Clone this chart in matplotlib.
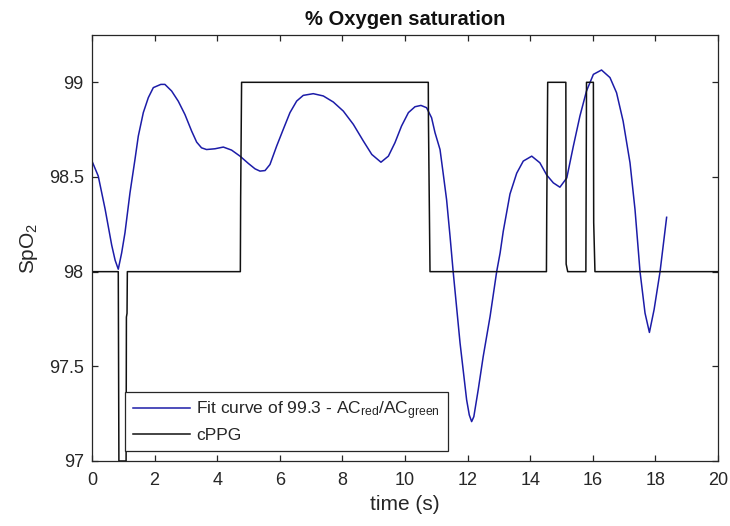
import matplotlib
matplotlib.use("Agg")
import matplotlib.pyplot as plt
from matplotlib.ticker import FixedLocator, FixedFormatter

plt.rcParams['font.family'] = ['Liberation Sans', 'DejaVu Sans']
plt.rcParams['mathtext.default'] = 'regular'

# Fitted SpO2 estimate (99.3 - ACred/ACgreen), sampled along time
fit_t = [0.0, 0.2, 0.42, 0.63, 0.74, 0.84, 0.948, 1.054, 1.214, 1.374, 1.48,
         1.64, 1.80, 1.96, 2.20, 2.33, 2.545, 2.758, 2.97, 3.185, 3.345, 3.50,
         3.66, 3.93, 4.196, 4.46, 4.73, 5.0, 5.21, 5.367, 5.53, 5.687, 5.90,
         6.11, 6.326, 6.54, 6.75, 7.07, 7.39, 7.71, 8.03, 8.35, 8.67, 8.94,
         9.233, 9.47, 9.68, 9.89, 10.11, 10.32, 10.51, 10.69, 10.85, 10.96,
         11.12, 11.22, 11.33, 11.44, 11.54, 11.76, 11.97, 12.055, 12.13, 12.20,
         12.34, 12.50, 12.72, 12.93, 13.04, 13.14, 13.355, 13.57, 13.78, 14.05,
         14.31, 14.53, 14.74, 14.95, 15.17, 15.38, 15.59, 15.80, 16.02, 16.28,
         16.55, 16.76, 16.97, 17.19, 17.35, 17.51, 17.67, 17.81, 17.96, 18.15,
         18.36]
fit_spo2 = [98.584, 98.505, 98.33, 98.14, 98.06, 98.013, 98.099, 98.205, 98.416,
            98.593, 98.716, 98.84, 98.919, 98.972, 98.989, 98.989, 98.954,
            98.90, 98.83, 98.742, 98.684, 98.654, 98.645, 98.649, 98.658,
            98.642, 98.61, 98.571, 98.543, 98.531, 98.534, 98.566, 98.663,
            98.751, 98.84, 98.901, 98.931, 98.94, 98.928, 98.896, 98.848,
            98.778, 98.69, 98.619, 98.578, 98.61, 98.681, 98.769, 98.84,
            98.871, 98.878, 98.866, 98.813, 98.734, 98.645, 98.52, 98.38,
            98.187, 98.0, 97.623, 97.323, 97.243, 97.208, 97.234, 97.376,
            97.552, 97.764, 98.0, 98.099, 98.213, 98.41, 98.52, 98.584, 98.61,
            98.575, 98.51, 98.469, 98.446, 98.495, 98.663, 98.822, 98.954,
            99.042, 99.065, 99.025, 98.945, 98.795, 98.575, 98.328, 98.0,
            97.781, 97.679, 97.80, 98.0, 98.287]

# cPPG reference readings (step-like)
cppg_t = [0.0, 0.84, 0.86, 1.09, 1.10, 1.12, 1.13, 4.74, 4.75, 4.78, 10.745,
          10.75, 10.80, 14.52, 14.53, 14.56, 15.14, 15.15, 15.20, 15.78, 15.80,
          16.02, 16.03, 16.07, 20.0]
cppg_spo2 = [98.0, 98.0, 97.0, 97.0, 97.76, 97.78, 98.0, 98.0, 98.39, 99.0,
             99.0, 98.80, 98.0, 98.0, 98.32, 99.0, 99.0, 98.04, 98.0, 98.0,
             99.0, 99.0, 98.26, 98.0, 98.0]

x_ticks = [0, 2, 4, 6, 8, 10, 12, 14, 16, 18, 20]
y_ticks = [97, 97.5, 98, 98.5, 99]
y_tick_labels = ['97', '97.5', '98', '98.5', '99']

fig = plt.figure(figsize=(7.30, 5.26), dpi=100)
ax = fig.add_axes([0.126, 0.1236, 0.8575, 0.8099])

ax.plot(fit_t, fit_spo2, color='#1c1ca8', lw=1.1,
        label=r'Fit curve of 99.3 - AC$_{red}$/AC$_{green}$')
ax.plot(cppg_t, cppg_spo2, color='#111111', lw=1.1, label='cPPG')

ax.set_xlim(0, 20)
ax.set_ylim(97, 99.25)
ax.xaxis.set_major_locator(FixedLocator(x_ticks))
ax.yaxis.set_major_locator(FixedLocator(y_ticks))
ax.yaxis.set_major_formatter(FixedFormatter(y_tick_labels))

edge = '#262626'
for s in ax.spines.values():
    s.set_color(edge)
    s.set_linewidth(0.9)
ax.tick_params(direction='in', length=4.5, width=0.9, color=edge,
               labelcolor='#262626', labelsize=13, top=True, right=True)
ax.tick_params(axis='x', pad=8)
ax.tick_params(axis='y', pad=6)

ax.set_title('% Oxygen saturation', fontsize=14.5, fontweight='bold',
             color='#111111', pad=7)
ax.set_xlabel('time (s)', fontsize=15, color='#262626', labelpad=4)
ax.set_ylabel(r'SpO$_2$', fontsize=15, color='#262626', labelpad=6)

leg = ax.legend(loc='lower left', bbox_to_anchor=(0.0527, 0.0235),
                borderaxespad=0, fontsize=12.5, fancybox=False,
                framealpha=1, edgecolor=edge, handlelength=3.3,
                handletextpad=0.35, borderpad=0.45, labelspacing=0.35)
leg.get_frame().set_linewidth(0.9)
for t in leg.get_texts():
    t.set_color('#262626')

fig.savefig('out.png', dpi=100)
